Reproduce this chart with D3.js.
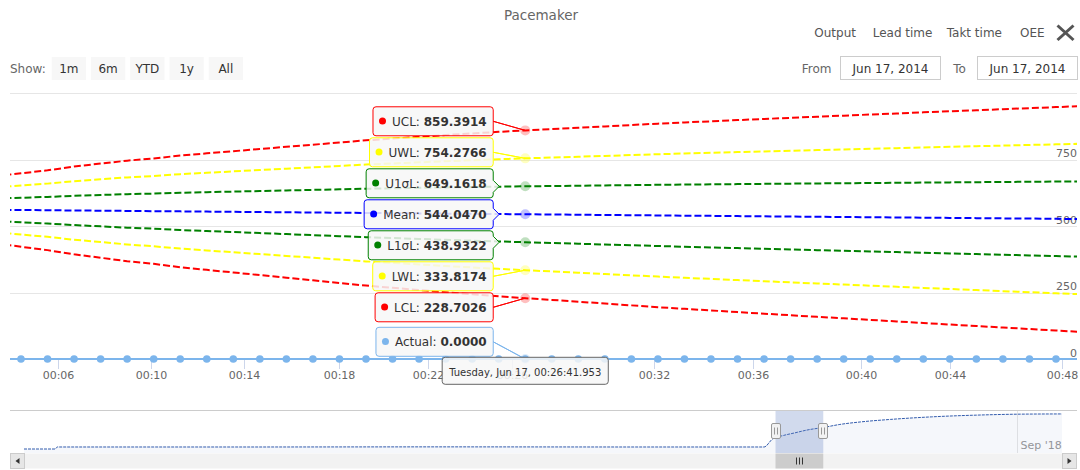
<!DOCTYPE html>
<html>
<head>
<meta charset="utf-8">
<title>Pacemaker</title>
<script src="https://cdn.jsdelivr.net/npm/d3@7"></script>
<style>
  html, body { margin: 0; padding: 0; background: #fff; }
  svg { display: block; font-family: "DejaVu Sans", sans-serif; }
</style>
</head>
<body>
<svg id="chart" width="1080" height="470"></svg>
<script>
// ---- Data -------------------------------------------------------------
// Sample timestamps (seconds after midnight, Tuesday 17 Jun 2014), one per
// ordinal slot; the first and last sit just outside the visible window.
const sampleSeconds = [204, 270, 330, 408, 474, 540, 606, 678, 750, 810, 888, 954,
  1020, 1080, 1152, 1224, 1296, 1368, 1440, 1518, 1601.953, 1668, 1734, 1800, 1866,
  1929, 1992, 2058, 2124, 2184, 2244, 2304, 2364, 2418, 2484, 2550, 2640, 2694, 2760,
  2820, 2868, 2922];

// Measured output per sample
const actualValues = [0, 0, 0, 0, 0, 0, 0, 0, 0, 0, 0, 0, 0, 0, 0, 0, 0, 0, 0, 0, 0,
  0, 0, 0, 0, 0, 0, 0, 0, 0, 0, 0, 0, 0, 0, 0, 0, 0, 0, 0, 0, 0];

// Running process mean and standard deviation per sample
const meanValues = [561.0, 560.1, 559.3, 558.4, 557.6, 556.7, 555.8, 555.0, 554.1,
  553.3, 552.4, 551.6, 550.7, 549.8, 549.0, 548.2, 547.4, 546.5, 545.7, 544.9, 544.047,
  543.2, 542.3, 541.5, 540.6, 539.8, 538.9, 538.1, 537.2, 536.4, 535.5, 534.7, 533.8,
  533.0, 532.1, 531.3, 530.4, 529.6, 528.7, 527.9, 527.0, 526.2];
const sigmaValues = [42, 46, 50, 55, 59, 63, 66, 70, 73, 76, 79, 82, 85, 88, 91, 93.5,
  96, 98.5, 100.8, 103, 105.1148, 107, 109, 111, 113, 115, 116.8, 118.5, 120.3, 122,
  123.7, 125.4, 127, 128.7, 130.3, 132, 133.6, 135.2, 136.8, 138.4, 140, 141.5];

// Control-chart limits: mean + k * sigma
const limitNames  = ["UCL", "UWL", "U1\u03C3L", "Mean", "L1\u03C3L", "LWL", "LCL"];
const limitSigmas = [3, 2, 1, 0, -1, -2, -3];
const limitColors = ["#ff0000", "#ffff00", "#008000", "#0000ff", "#008000", "#ffff00", "#ff0000"];

// Axis ticks
const yTickValues = [0, 250, 500, 750, 1000];
const xTickMinutes = [6, 10, 14, 18, 22, 26, 32, 36, 40, 44, 48];

// Overview (navigator) series over the whole history, in weeks
const overviewWeeks  = [0, 3.0, 3.2, 20, 40, 60, 71.3, 72.1, 73.2, 74.2, 75.4, 77.1,
  78.6, 80.6, 83.5, 87.4, 92.2, 96.0, 100];
const overviewValues = [95, 95, 143, 143, 146, 143, 143, 330, 420, 476, 545, 612,
  680, 740, 800, 860, 905, 925, 930];
const overviewWindow = [72.4, 77.0];
const overviewTicks = [{ at: 95.7, label: "Sep '18" }];

// Page furniture
const rangeButtons = ["1m", "6m", "YTD", "1y", "All"];
const metricLinks = ["Output", "Lead time", "Takt time", "OEE"];
const rangeFrom = new Date(2014, 5, 17);
const rangeTo = new Date(2014, 5, 17);
const hoverIndex = 20;   // sample under the crosshair

// ---- Setup ------------------------------------------------------------
const svg = d3.select("#chart");
const plot = { left: 10, right: 1077, top: 93, bottom: 359 };
const day0 = new Date(2014, 5, 17, 0, 0, 0);

// Ordinal x axis: samples evenly spaced, ticks interpolated between samples
const slotOf = d3.scaleLinear()
  .domain(sampleSeconds)
  .range(sampleSeconds.map((_, i) => i - 1));
const xSlot = d3.scaleLinear().domain([0, 39]).range([21, 1056]);
const xPos = i => xSlot(i - 1);
const y = d3.scaleLinear().domain([0, 1000]).range([plot.bottom, plot.top]);

const series = limitNames.map((name, j) => ({
  name,
  color: limitColors[j],
  values: meanValues.map((m, i) => m + limitSigmas[j] * sigmaValues[i])
}));

// ---- Header -----------------------------------------------------------
svg.append("text").attr("x", 541).attr("y", 20).attr("text-anchor", "middle")
  .attr("font-size", 13.5).attr("fill", "#666").text("Pacemaker");

const linkX = [814.3, 872.7, 946.7, 1020];
metricLinks.forEach((t, i) => {
  svg.append("text").attr("x", linkX[i]).attr("y", 36.5).attr("font-size", 12)
    .attr("fill", "#555").text(t);
});
svg.append("path").attr("d", "M1057.5,25.5L1073.5,40M1073.5,25.5L1057.5,40")
  .attr("stroke", "#555").attr("stroke-width", 3).attr("fill", "none");

// Range selector
svg.append("text").attr("x", 10).attr("y", 73.3).attr("font-size", 12)
  .attr("fill", "#666").text("Show:");
rangeButtons.forEach((t, i) => {
  const bx = 51.7 + i * 39.25;
  svg.append("rect").attr("x", bx).attr("y", 57).attr("width", 34.3).attr("height", 23)
    .attr("fill", "#f7f7f7");
  svg.append("text").attr("x", bx + 17.15).attr("y", 73.3).attr("text-anchor", "middle")
    .attr("font-size", 12).attr("fill", "#333").text(t);
});
const fmtInput = d3.timeFormat("%b %d, %Y");
[["From", 801.7, 840.5, rangeFrom], ["To", 953.3, 977.5, rangeTo]].forEach(([lab, lx, bx, d]) => {
  svg.append("text").attr("x", lx).attr("y", 73.3).attr("font-size", 12)
    .attr("fill", "#666").text(lab);
  svg.append("rect").attr("x", bx).attr("y", 56.5).attr("width", 100).attr("height", 23)
    .attr("fill", "#fff").attr("stroke", "#ccc");
  svg.append("text").attr("x", bx + 50).attr("y", 73.3).attr("text-anchor", "middle")
    .attr("font-size", 12).attr("fill", "#333").text(fmtInput(d));
});

// ---- Plot -------------------------------------------------------------
svg.append("defs").append("clipPath").attr("id", "plotClip")
  .append("rect").attr("x", plot.left).attr("y", plot.top - 5)
  .attr("width", plot.right - plot.left).attr("height", plot.bottom - plot.top + 10);

// horizontal grid + right-hand labels
const grid = svg.append("g");
yTickValues.forEach(v => {
  grid.append("line").attr("x1", plot.left).attr("x2", plot.right)
    .attr("y1", Math.round(y(v)) + 0.5).attr("y2", Math.round(y(v)) + 0.5)
    .attr("stroke", "#e6e6e6");
});
yTickValues.filter(v => v < 1000).forEach(v => {
  grid.append("text").attr("x", plot.right).attr("y", y(v) - 2.3)
    .attr("text-anchor", "end").attr("font-size", 11).attr("fill", "#666")
    .text(d3.format("d")(v));
});

// x axis ticks and labels
const fmtTick = m => "00:" + d3.format("02d")(m);
const xAxis = svg.append("g");
xTickMinutes.forEach(m => {
  const px = Math.round(xPos(slotOf(m * 60) + 1)) + 0.5;
  xAxis.append("line").attr("x1", px).attr("x2", px).attr("y1", plot.bottom)
    .attr("y2", plot.bottom + 10).attr("stroke", "#ccd6eb");
  xAxis.append("text").attr("x", px).attr("y", plot.bottom + 20)
    .attr("text-anchor", "middle").attr("font-size", 11).attr("fill", "#666")
    .text(fmtTick(m));
});

const plotG = svg.append("g").attr("clip-path", "url(#plotClip)");
const line = d3.line().x((d, i) => xPos(i)).y(d => y(d));

// control limits (dashed)
series.forEach(s => {
  plotG.append("path").attr("d", line(s.values)).attr("fill", "none")
    .attr("stroke", s.color).attr("stroke-width", 2).attr("stroke-dasharray", "7,3");
});

// actual values
plotG.append("path").attr("d", line(actualValues)).attr("fill", "none")
  .attr("stroke", "#7cb5ec").attr("stroke-width", 2);
actualValues.forEach((v, i) => {
  plotG.append("circle").attr("cx", xPos(i)).attr("cy", y(v)).attr("r", 3.8)
    .attr("fill", "#7cb5ec");
});

// hover halos
const anchorX = xPos(hoverIndex);
series.concat([{ name: "Actual", color: "#7cb5ec", values: actualValues }]).forEach(s => {
  svg.append("circle").attr("cx", anchorX).attr("cy", y(s.values[hoverIndex]))
    .attr("r", 5).attr("fill", s.color).attr("fill-opacity", 0.25);
});

// ---- Split tooltip ----------------------------------------------------
function callout(x0, y0, w, h, r, ax, ay) {
  const half = 6, arrow = 6, safe = r + half;
  const p = [`M${x0 + r},${y0}`];
  if (ay < y0 && ax > x0 + safe && ax < x0 + w - safe) {
    p.push(`L${ax - half},${y0}`, `L${ax},${y0 - arrow}`, `L${ax + half},${y0}`);
  }
  p.push(`L${x0 + w - r},${y0}`, `Q${x0 + w},${y0} ${x0 + w},${y0 + r}`);
  if (ax > x0 + w) {
    if (ay > y0 + safe && ay < y0 + h - safe) {
      p.push(`L${x0 + w},${ay - half}`, `L${x0 + w + arrow},${ay}`, `L${x0 + w},${ay + half}`);
    } else {
      p.push(`L${x0 + w},${y0 + h / 2}`, `L${ax},${ay}`, `L${x0 + w},${y0 + h / 2}`);
    }
  }
  p.push(`L${x0 + w},${y0 + h - r}`, `Q${x0 + w},${y0 + h} ${x0 + w - r},${y0 + h}`,
    `L${x0 + r},${y0 + h}`, `Q${x0},${y0 + h} ${x0},${y0 + h - r}`,
    `L${x0},${y0 + r}`, `Q${x0},${y0} ${x0 + r},${y0}`, "Z");
  return p.join(" ");
}

// keep boxes from overlapping: merge clashing neighbours around their mean target
function distribute(items, lo, hi, pitch, gap) {
  let groups = items.map(d => ({ members: [d] }));
  const place = g => {
    const len = g.members.length * pitch;
    const c = d3.mean(g.members, m => m.target);
    g.pos = Math.max(lo, Math.min(hi - len, c - len / 2));
  };
  groups.forEach(place);
  let merged = true;
  while (merged) {
    merged = false;
    for (let i = 0; i < groups.length - 1; i++) {
      const a = groups[i], b = groups[i + 1];
      if (a.pos + a.members.length * pitch > b.pos + 0.01) {
        a.members = a.members.concat(b.members);
        groups.splice(i + 1, 1);
        place(a);
        merged = true;
        break;
      }
    }
  }
  groups.forEach(g => g.members.forEach((m, k) => { m.top = g.pos + k * pitch + gap / 2; }));
}

const boxH = 29, boxGap = 2;
const headerTop = y(0) - 1.7;
const tipItems = series.map(s => ({ name: s.name, color: s.color, value: s.values[hoverIndex] }))
  .concat([{ name: "Actual", color: "#7cb5ec", value: actualValues[hoverIndex] }]);
tipItems.forEach(d => { d.target = y(d.value); });
tipItems.sort((a, b) => a.target - b.target);
distribute(tipItems, plot.top - 20, headerTop, boxH + boxGap, boxGap);

const tipG = svg.append("g");
const boxRight = anchorX - 32;
tipItems.forEach(d => {
  const g = tipG.append("g");
  const path = g.append("path");
  const txt = g.append("text").attr("font-size", 12).attr("fill", "#333");
  txt.append("tspan").text(d.name + ": ");
  txt.append("tspan").attr("font-weight", "bold").text(d.value.toFixed(4));
  const tw = txt.node().getComputedTextLength();
  const w = 19 + tw + 6.5;
  const x0 = boxRight - w;
  txt.attr("x", x0 + 19).attr("y", d.top + 19);
  path.attr("d", callout(x0, d.top, w, boxH, 3, anchorX, d.target))
    .attr("fill", "rgba(247,247,247,0.85)").attr("stroke", d.color).attr("stroke-width", 1);
  g.append("circle").attr("cx", x0 + 9.5).attr("cy", d.top + 14.3).attr("r", 3.5)
    .attr("fill", d.color);
});

// header label with the sample time
const fmtHeader = d3.timeFormat("%A, %b %d, %H:%M:%S.%L");
const hoverTime = new Date(day0.getTime() + sampleSeconds[hoverIndex] * 1000);
{
  const g = tipG.append("g");
  const path = g.append("path");
  const txt = g.append("text").attr("font-size", 10).attr("fill", "#333")
    .attr("text-anchor", "middle").attr("x", anchorX).attr("y", headerTop + 18.7)
    .text(fmtHeader(hoverTime));
  const w = txt.node().getComputedTextLength() + 14;
  path.attr("d", callout(anchorX - w / 2, headerTop, w, 27, 3, anchorX, y(0)))
    .attr("fill", "rgba(247,247,247,0.85)").attr("stroke", "#666").attr("stroke-width", 1);
}

// ---- Navigator + scrollbar -------------------------------------------
const nav = { left: 24, right: 1062, top: 411, bottom: 453 };
const nx = d3.scaleLinear().domain([0, 100]).range([nav.left, nav.right]);
const ny = d3.scaleLinear().domain([0, 1000]).range([nav.bottom, nav.top]);
const navG = svg.append("g");

overviewTicks.forEach(t => {
  const px = Math.round(nx(t.at)) + 0.5;
  navG.append("line").attr("x1", px).attr("x2", px).attr("y1", nav.top).attr("y2", nav.bottom)
    .attr("stroke", "#e6e6e6");
  navG.append("text").attr("x", px + 3).attr("y", nav.bottom - 4).attr("font-size", 11)
    .attr("fill", "#999").text(t.label);
});

const navPts = overviewWeeks.map((w, i) => [w, overviewValues[i]]);
navG.append("path")
  .attr("d", d3.area().x(d => nx(d[0])).y0(nav.bottom).y1(d => ny(d[1]))(navPts))
  .attr("fill", "rgba(51,92,173,0.05)");
navG.append("path")
  .attr("d", d3.line().x(d => nx(d[0])).y(d => ny(d[1])).curve(d3.curveMonotoneX)(navPts))
  .attr("fill", "none").attr("stroke", "#335cad").attr("stroke-width", 1)
  .attr("stroke-dasharray", "3,1");

const selL = nx(overviewWindow[0]), selR = nx(overviewWindow[1]);
navG.append("rect").attr("x", selL).attr("y", nav.top).attr("width", selR - selL)
  .attr("height", nav.bottom - nav.top).attr("fill", "rgba(102,133,194,0.3)");
navG.append("line").attr("x1", plot.left).attr("x2", plot.right)
  .attr("y1", nav.top - 0.5).attr("y2", nav.top - 0.5).attr("stroke", "#ccc");

[selL, selR].forEach(hx => {
  const cx = Math.round(hx);
  navG.append("rect").attr("x", cx - 4.5).attr("y", 423.5).attr("width", 9).attr("height", 15)
    .attr("rx", 1.5).attr("fill", "#f2f2f2").attr("stroke", "#999");
  navG.append("path").attr("d", `M${cx - 1.5},427.5V434.5M${cx + 1.5},427.5V434.5`)
    .attr("stroke", "#999").attr("stroke-width", 1);
});

// scrollbar
const sb = { top: 453.5, h: 15 };
navG.append("rect").attr("x", plot.left).attr("y", sb.top).attr("width", plot.right - plot.left)
  .attr("height", sb.h).attr("fill", "#f2f2f2");
navG.append("rect").attr("x", selL).attr("y", sb.top).attr("width", selR - selL)
  .attr("height", sb.h).attr("fill", "#cccccc");
const rc = Math.round((selL + selR) / 2) + 0.5;
navG.append("path").attr("d", `M${rc - 3},${sb.top + 4}V${sb.top + 11}M${rc},${sb.top + 4}V${sb.top + 11}M${rc + 3},${sb.top + 4}V${sb.top + 11}`)
  .attr("stroke", "#333");
[[plot.left + 0.5, -1], [nav.right + 0.5, 1]].forEach(([bx, dir]) => {
  navG.append("rect").attr("x", bx).attr("y", sb.top).attr("width", 14).attr("height", sb.h)
    .attr("fill", "#e6e6e6").attr("stroke", "#ccc");
  const cx = bx + 7, cy = sb.top + sb.h / 2;
  navG.append("path")
    .attr("d", `M${cx - 2 * dir},${cy - 3}L${cx + 2 * dir},${cy}L${cx - 2 * dir},${cy + 3}Z`)
    .attr("fill", "#333");
});
</script>
</body>
</html>
